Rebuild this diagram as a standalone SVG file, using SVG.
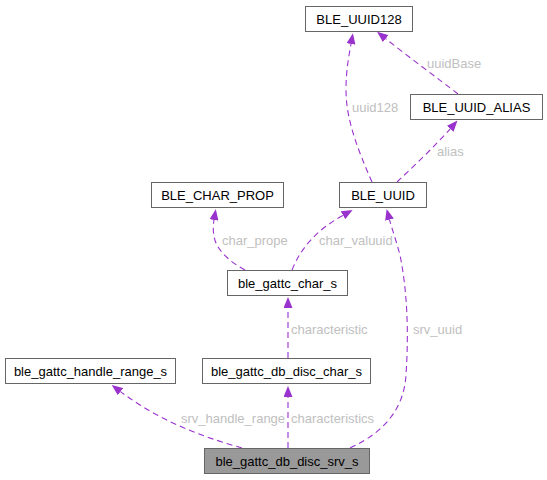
<svg xmlns="http://www.w3.org/2000/svg" width="547" height="480" viewBox="0 0 547 480">
<style>
.node rect{fill:#ffffff;stroke:#666666;stroke-width:1}
.node text{font-family:"Liberation Sans",Arial,sans-serif;font-size:13px;fill:#000000;text-anchor:middle}
.edge path{fill:none;stroke:#9a32cd;stroke-width:1.1;stroke-dasharray:6,4}
.elabel{font-family:"Liberation Sans",Arial,sans-serif;font-size:13px;fill:#c0c0c0}
</style>
<defs>
<marker id="ah" viewBox="0 0 11 9" refX="0" refY="4.5" markerWidth="11" markerHeight="9" markerUnits="userSpaceOnUse" orient="auto">
<path d="M0,0 L11,4.5 L0,9 z" fill="#9a32cd" stroke="none"/>
</marker>
</defs>
<rect width="547" height="480" fill="#ffffff"/>
<g id="connectors" class="edge">
<path d="M372,182 C358,150 346,120 346,90 C346,70 349,55 351,44" marker-end="url(#ah)"/>
<path d="M458,94 C440,80 410,58 385.7,38.7" marker-end="url(#ah)"/>
<path d="M397,182 C415,165 435,146 450.2,128.8" marker-end="url(#ah)"/>
<path d="M245,270 C230,262 216,250 214,236 C213,231 213,226 214,220" marker-end="url(#ah)"/>
<path d="M292,270 C302,245 320,228 343,215.3" marker-end="url(#ah)"/>
<path d="M288,358 L288,308" marker-end="url(#ah)"/>
<path d="M242,448 C200,436 160,421 120.5,391.6" marker-end="url(#ah)"/>
<path d="M288,448 L288,397" marker-end="url(#ah)"/>
<path d="M350,448 C385,432 404,408 406,375 C409,330 407,290 400,255 C396,240 392,229 389.5,219.7" marker-end="url(#ah)"/>
</g>
<g id="edge-labels">
<text class="elabel" x="427" y="67.5">uuidBase</text>
<text class="elabel" x="352" y="111.5">uuid128</text>
<text class="elabel" x="437" y="155.5">alias</text>
<text class="elabel" x="222" y="245">char_prope</text>
<text class="elabel" x="319" y="245">char_valuuid</text>
<text class="elabel" x="291" y="333.5">characteristic</text>
<text class="elabel" x="413" y="333.5">srv_uuid</text>
<text class="elabel" x="181" y="422.5">srv_handle_range</text>
<text class="elabel" x="291" y="422.5">characteristics</text>
</g>
<g id="BLE_UUID128" class="node"><rect x="305.5" y="6.5" width="107" height="25"/><text x="359" y="23.5">BLE_UUID128</text></g>
<g id="BLE_UUID_ALIAS" class="node"><rect x="410.5" y="94.5" width="132" height="25"/><text x="476.5" y="111.5">BLE_UUID_ALIAS</text></g>
<g id="BLE_CHAR_PROP" class="node"><rect x="151.5" y="182.5" width="132" height="25"/><text x="217.5" y="199.5">BLE_CHAR_PROP</text></g>
<g id="BLE_UUID" class="node"><rect x="339.5" y="182.5" width="87" height="25"/><text x="383" y="199.5">BLE_UUID</text></g>
<g id="ble_gattc_char_s" class="node"><rect x="227.5" y="270.5" width="120" height="25"/><text x="287.5" y="287.5">ble_gattc_char_s</text></g>
<g id="ble_gattc_handle_range_s" class="node"><rect x="5.5" y="358.5" width="170" height="25"/><text x="90.5" y="375.5">ble_gattc_handle_range_s</text></g>
<g id="ble_gattc_db_disc_char_s" class="node"><rect x="202.5" y="358.5" width="168" height="25"/><text x="286.5" y="375.5">ble_gattc_db_disc_char_s</text></g>
<g id="ble_gattc_db_disc_srv_s" class="node"><rect x="204.5" y="448.5" width="165" height="25" style="fill:#999999"/><text x="287" y="465.5">ble_gattc_db_disc_srv_s</text></g>
</svg>
